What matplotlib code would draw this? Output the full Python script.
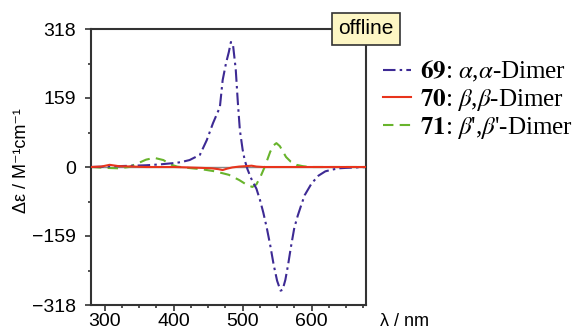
import matplotlib
matplotlib.use('Agg')
import matplotlib.pyplot as plt
from matplotlib.ticker import MultipleLocator

plt.rcParams['font.family'] = ['Liberation Sans', 'DejaVu Sans']
plt.rcParams['mathtext.fontset'] = 'stix'

# CD spectra (wavelength in nm, delta epsilon)
wl_69 = [280, 300, 320, 340, 360, 380, 400, 410, 423, 438, 448, 457, 467, 471, 476,
         480, 483, 486, 490, 493, 496, 500, 503, 507, 512, 516, 520, 525, 530, 535,
         540, 545, 550, 555, 558, 562, 566, 570, 575, 580, 585, 590, 600, 610, 620,
         630, 640, 650, 680]
de_69 = [0, 1, 2, 3, 4, 6, 9, 11, 16, 28, 62, 101, 138, 200, 240,
         265, 288, 282, 225, 150, 85, 40, 16, -5, -25, -38, -50, -75, -105, -140,
         -180, -225, -262, -285, -283, -260, -225, -185, -140, -112, -88, -65, -38, -20, -10,
         -6, -3, -2, 0]

wl_70 = [280, 295, 307, 320, 340, 360, 380, 400, 420, 440, 455, 465, 471, 477, 485,
         495, 505, 513, 520, 530, 550, 580, 620, 680]
de_70 = [0, 1, 5, 2, 1, 0, 0, 0, -1, -2, -3, -5, -7, -4, -1,
         1, 2, 3, 1, 0, 0, 0, 0, 0]

wl_71 = [280, 300, 320, 335, 350, 360, 372, 385, 395, 405, 420, 440, 460, 480, 495,
         505, 514, 520, 526, 532, 540, 545, 549, 554, 563, 570, 578, 587, 597, 620, 680]
de_71 = [0, -2, -3, 0, 10, 17, 21, 16, 6, 1, -2, -5, -10, -18, -30,
         -40, -46, -40, -22, 0, 35, 50, 55, 48, 23, 12, 5, 2, 0, 0, 0]

labels = [r'$\mathbf{69}$: $\alpha$,$\alpha$-Dimer',
          r'$\mathbf{70}$: $\beta$,$\beta$-Dimer',
          r"$\mathbf{71}$: $\beta$',$\beta$'-Dimer"]
yticks = [-318, -159, 0, 159, 318]
xticks = [300, 400, 500, 600]

fig = plt.figure(figsize=(5.8, 3.33), dpi=100)
ax = fig.add_axes([91 / 580, 1 - 305 / 333, 275 / 580, 276 / 333])

ax.axhline(0, color='#888888', lw=1.0, zorder=1)
l1, = ax.plot(wl_69, de_69, color='#3d2a94', lw=1.5, ls=(0, (6, 2, 1.2, 2)), zorder=3)
l2, = ax.plot(wl_70, de_70, color='#e8341c', lw=1.5, zorder=4)
l3, = ax.plot(wl_71, de_71, color='#68b42c', lw=1.5, ls=(0, (5, 3)), zorder=2)

ax.set_xlim(280, 679)
ax.set_ylim(-318, 318)
ax.set_xticks(xticks)
ax.set_yticks(yticks)
ax.xaxis.set_minor_locator(MultipleLocator(25))
ax.yaxis.set_minor_locator(MultipleLocator(79.5))
ax.tick_params(which='both', direction='out', colors='#333333', labelcolor='black',
               labelsize=14, width=1.2)
ax.tick_params(which='major', length=4)
ax.tick_params(which='minor', length=2.5)
ax.tick_params(axis='x', pad=2)
ax.tick_params(axis='y', pad=7)
for s in ax.spines.values():
    s.set_color('#333333')
    s.set_linewidth(1.5)

fig.text(22 / 580, 172 / 333, 'Δε / M⁻¹cm⁻¹', rotation=90,
         ha='center', va='center', fontsize=13)
fig.text(405 / 580, 1 - 322 / 333, 'λ / nm', ha='center', va='center', fontsize=13)

ax.text(1.0, 1.0, 'offline', transform=ax.transAxes, ha='center', va='center',
        fontsize=15, zorder=10,
        bbox=dict(boxstyle='square,pad=0.3', facecolor='#fdf6c4', edgecolor='#333333', lw=1.2))

fig.legend([l1, l2, l3], labels, loc='upper left', bbox_to_anchor=(383 / 580, 1 - 59 / 333),
           frameon=False, prop={'family': 'Liberation Serif', 'size': 18},
           handlelength=1.1, handletextpad=0.4, labelspacing=0.1,
           borderpad=0, borderaxespad=0)

fig.savefig('out.png', dpi=100)
